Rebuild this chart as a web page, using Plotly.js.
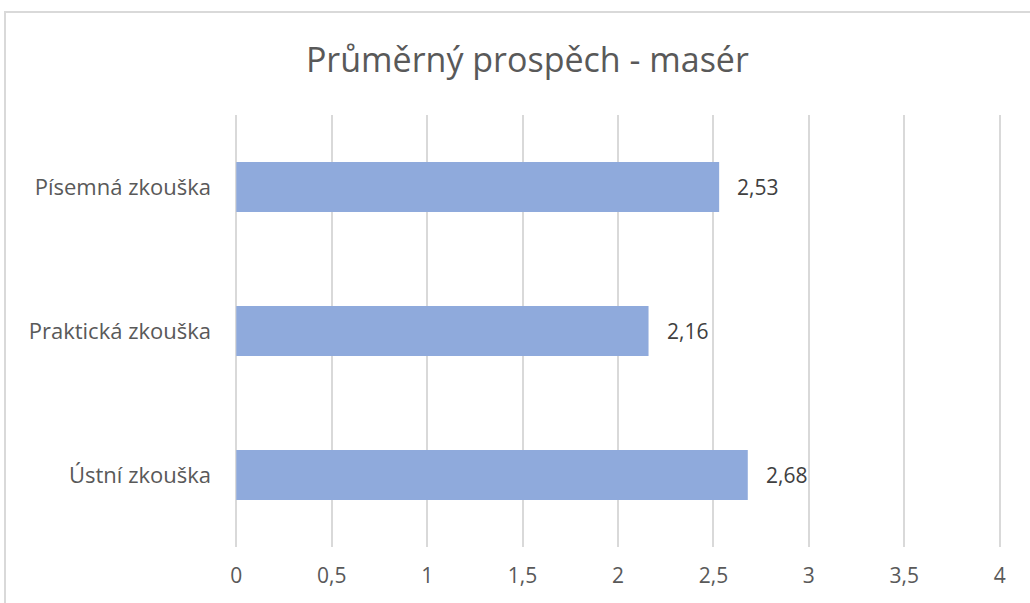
<!DOCTYPE html>
<html>
<head>
<meta charset="utf-8">
<script src="https://cdn.plot.ly/plotly-3.0.1.min.js"></script>
<style>
html,body{margin:0;padding:0;background:#fff;}
#frame{position:absolute;left:4px;top:11px;width:1040px;height:610px;border:2px solid #d9d9d9;box-sizing:border-box;}
#chart{position:absolute;left:0;top:0;width:1030px;height:603px;}
</style>
</head>
<body>
<div id="frame"></div>
<div id="chart"></div>
<script>
var categories = ["Písemná zkouška", "Praktická zkouška", "Ústní zkouška"];
var values = [2.53, 2.16, 2.68];
var xTicks = [0, 0.5, 1, 1.5, 2, 2.5, 3, 3.5, 4];
var xTickLabels = ["0", "0,5", "1", "1,5", "2", "2,5", "3", "3,5", "4"];

var font = "'Open Sans', sans-serif";

var trace = {
  type: "bar",
  orientation: "h",
  y: categories,
  x: values,
  marker: {color: "#8FAADC"},
  hoverinfo: "none"
};

var annotations = values.map(function(v, i){
  return {
    x: v, y: categories[i], xref: "x", yref: "y",
    text: v.toFixed(2).replace(".", ","),
    showarrow: false, xanchor: "left", xshift: 16,
    font: {family: font, size: 21, color: "#404040"}
  };
});

var layout = {
  width: 1030, height: 603,
  paper_bgcolor: "rgba(0,0,0,0)",
  plot_bgcolor: "rgba(0,0,0,0)",
  margin: {l: 234, r: 28, t: 115, b: 56},
  title: {text: "Průměrný prospěch - masér", x: 0.512, xanchor: "center", y: 0.9, yanchor: "middle",
          font: {family: font, size: 34, color: "#595959"}},
  bargap: 0.653,
  showlegend: false,
  xaxis: {
    range: [-0.012, 4.012], tickvals: xTicks, ticktext: xTickLabels,
    showgrid: true, gridcolor: "#d9d9d9", gridwidth: 2,
    zeroline: false, showline: false, ticks: "",
    tickfont: {family: font, size: 21, color: "#595959"},
    ticklabelstandoff: 14, fixedrange: true
  },
  yaxis: {
    type: "category", autorange: "reversed",
    showgrid: false, zeroline: false, showline: false, ticks: "",
    tickfont: {family: font, size: 22, color: "#595959"},
    ticklabelstandoff: 22, fixedrange: true
  },
  annotations: annotations
};

Plotly.newPlot("chart", [trace], layout, {displayModeBar: false, staticPlot: true});
</script>
</body>
</html>
